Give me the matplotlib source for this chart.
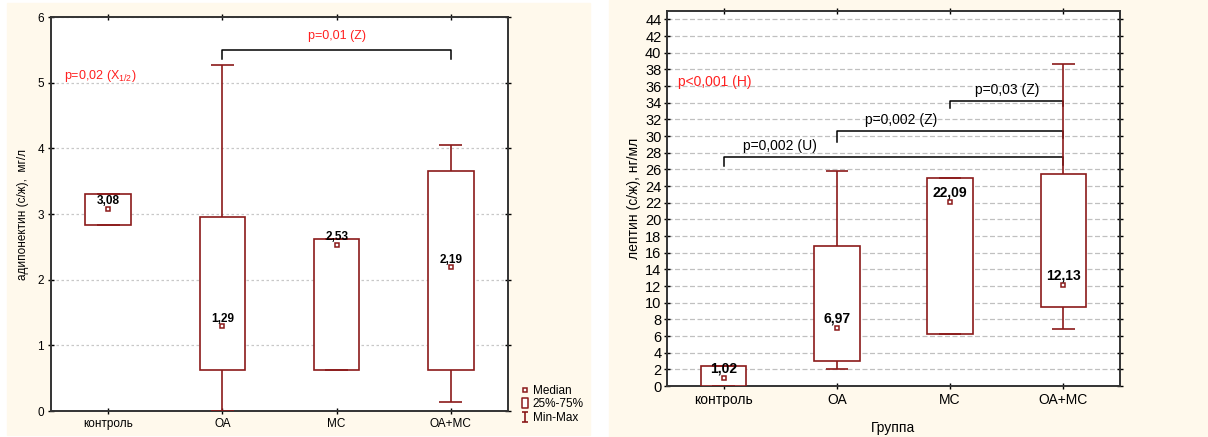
import matplotlib.pyplot as plt
from matplotlib.lines import Line2D
from matplotlib.patches import Rectangle
from matplotlib.path import Path

plt.rcParams['font.family'] = ['Liberation Sans', 'DejaVu Sans']

groups = ["контроль", "ОА", "МС", "ОА+МС"]

# adiponectin, mg/l
adipo_min = [2.83, 0.0, 0.63, 0.14]
adipo_q1 = [2.83, 0.63, 0.63, 0.62]
adipo_med = [3.08, 1.29, 2.53, 2.19]
adipo_q3 = [3.31, 2.95, 2.62, 3.66]
adipo_max = [3.31, 5.27, 2.62, 4.05]

# leptin, ng/ml
lep_min = [0.0, 2.1, 6.2, 6.9]
lep_q1 = [0.0, 3.0, 6.2, 9.5]
lep_med = [1.02, 6.97, 22.09, 12.13]
lep_q3 = [2.4, 16.8, 25.0, 25.4]
lep_max = [2.4, 25.8, 25.0, 38.6]

BOX = "#8b1a1a"
CREAM = "#fff9ec"

# I-beam marker for the min-max legend entry
ibeam = Path([(-0.6, -1), (0.6, -1), (0, -1), (0, 1), (-0.6, 1), (0.6, 1)],
             [Path.MOVETO, Path.LINETO, Path.MOVETO, Path.LINETO, Path.MOVETO, Path.LINETO])
# tall rectangle for the quartile box entry
tallbox = Path([(-0.6, -1), (0.6, -1), (0.6, 1), (-0.6, 1), (-0.6, -1)],
               [Path.MOVETO, Path.LINETO, Path.LINETO, Path.LINETO, Path.CLOSEPOLY])


def boxplot(ax, q1, med, q3, lo, hi, fs, off):
    x = list(range(len(groups)))
    ax.bar(x, [b - a for a, b in zip(q1, q3)], bottom=q1, width=0.4,
           facecolor="white", edgecolor=BOX, linewidth=1.2, zorder=3)
    ax.vlines(x, lo, q1, color=BOX, lw=1.2, zorder=4)
    ax.vlines(x, q3, hi, color=BOX, lw=1.2, zorder=4)
    ax.hlines(lo, [i - 0.1 for i in x], [i + 0.1 for i in x], color=BOX, lw=1.2, zorder=4)
    ax.hlines(hi, [i - 0.1 for i in x], [i + 0.1 for i in x], color=BOX, lw=1.2, zorder=4)
    ax.plot(x, med, ls="none", marker="s", ms=3.5, mfc="white", mec=BOX, mew=1.1, zorder=5)
    for i, m in enumerate(med):
        ax.annotate(f"{m:.2f}".replace(".", ","), (i, m), xytext=(0, off),
                    textcoords="offset points", ha="center", va="bottom",
                    fontsize=fs, fontweight="bold", zorder=6)


def bracket(ax, x0, x1, y, leg0, leg1, text, tx, ty, fs, color="black"):
    ax.plot([x0, x0, x1, x1], [y - leg0, y, y, y - leg1], color="black", lw=1.1, zorder=2)
    ax.text(tx, ty, text, ha="center", va="bottom", fontsize=fs, color=color)


def style(ax, fs):
    ax.set_xlim(-0.5, 3.5)
    ax.set_xticks(range(len(groups)))
    ax.set_xticklabels(groups, fontsize=fs)
    ax.tick_params(axis="both", direction="inout", length=4, width=1,
                   top=True, right=True, labelsize=fs, pad=3)
    for s in ax.spines.values():
        s.set_color("#333333")
        s.set_linewidth(1.4)
    ax.set_facecolor("white")


fig = plt.figure(figsize=(12.08, 4.37), dpi=100)
fig.patches.append(Rectangle((7 / 1208, 2 / 437), 583 / 1208, 432 / 437,
                             transform=fig.transFigure, color=CREAM, zorder=-10))
fig.patches.append(Rectangle((609 / 1208, 0), 599 / 1208, 1,
                             transform=fig.transFigure, color=CREAM, zorder=-10))

# left panel: adiponectin
ax1 = fig.add_axes([51 / 1208, 26 / 437, 457 / 1208, 394 / 437])
ax1.set_ylim(0, 6)
ax1.set_yticks(range(0, 7))
ax1.grid(axis="y", ls=(0, (2, 2)), color="#c8c8c8", lw=0.9, zorder=0)
boxplot(ax1, adipo_q1, adipo_med, adipo_q3, adipo_min, adipo_max, 8.5, 1.2)
bracket(ax1, 1, 3, 5.50, 0.14, 0.14, "p=0,01 (Z)", 2.0, 5.62, 9, color="#ff2020")
ax1.text(-0.39, 5.05, r"p=0,02 (X$_{\mathregular{1/2}}$)", fontsize=9, color="#ff2020")
style(ax1, 8.5)
ax1.set_ylabel("адипонектин (с/ж),  мг/л", fontsize=8.5, labelpad=6)

handles = [
    Line2D([], [], ls="none", marker="s", ms=3.5, mfc="white", mec=BOX, mew=1.1),
    Line2D([], [], ls="none", marker=tallbox, ms=7, mfc="white", mec=BOX, mew=1.1),
    Line2D([], [], ls="none", marker=ibeam, ms=7, mec=BOX, mew=1.2),
]
fig.legend(handles, ["Median", "25%-75%", "Min-Max"], loc="lower left",
           bbox_to_anchor=(511 / 1208, 5 / 437), frameon=False, fontsize=8.5,
           handlelength=1.0, handletextpad=0.15, labelspacing=0.12, borderpad=0.2)

# right panel: leptin
ax2 = fig.add_axes([667 / 1208, 51 / 437, 453 / 1208, 375 / 437])
ax2.set_ylim(0, 45)
ax2.set_yticks(range(0, 45, 2))
ax2.grid(axis="y", ls=(0, (4, 2)), color="#c0c0c0", lw=0.9, zorder=0)
bracket(ax2, 0, 3, 27.5, 1.1, 1.0, "p=0,002 (U)", 0.5, 28.0, 10)
bracket(ax2, 1, 3, 30.6, 1.3, 0.8, "p=0,002 (Z)", 1.57, 31.1, 10)
bracket(ax2, 2, 3, 34.2, 0.8, 0.6, "p=0,03 (Z)", 2.5, 34.7, 10)
boxplot(ax2, lep_q1, lep_med, lep_q3, lep_min, lep_max, 10, 1.5)
ax2.text(-0.4, 36.0, "p<0,001 (H)", fontsize=10, color="#ff2020")
style(ax2, 10)
ax2.tick_params(axis="y", labelsize=10.5, pad=2)
ax2.set_ylabel("лептин (с/ж), нг/мл", fontsize=10, labelpad=3)
ax2.set_xlabel("Группа", fontsize=10, labelpad=10)

fig.savefig("out.png", dpi=100, facecolor="white")
